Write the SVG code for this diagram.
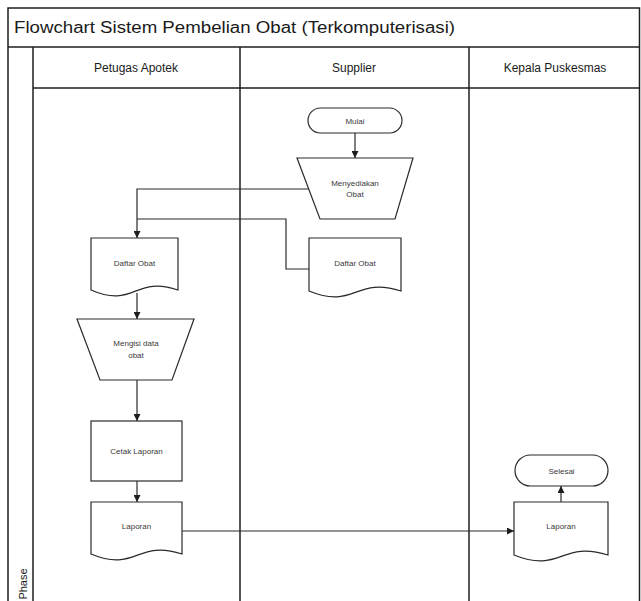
<svg xmlns="http://www.w3.org/2000/svg" width="641" height="601" viewBox="0 0 641 601">
  <style>
    .frame { fill: none; stroke: #1e1e1e; stroke-width: 1.5; }
    .shape { fill: #ffffff; stroke: #2a2a2a; stroke-width: 1.2; }
    .conn { fill: none; stroke: #2a2a2a; stroke-width: 1.2; }
    .title { font-family: "Liberation Sans", Arial, sans-serif; font-size: 16px; fill: #1a1a1a; }
    .lane { font-family: "Liberation Sans", Arial, sans-serif; font-size: 12px; fill: #1a1a1a; text-anchor: middle; }
    .lbl { font-family: "Liberation Sans", Arial, sans-serif; font-size: 8px; fill: #3a3a3a; text-anchor: middle; }
  </style>
  <defs>
    <marker id="arrow" viewBox="0 0 10 10" refX="10" refY="5" markerWidth="7" markerHeight="7" markerUnits="userSpaceOnUse" orient="auto">
      <path d="M0,0 L10,5 L0,10 Z" fill="#1e1e1e"/>
    </marker>
  </defs>

  <rect width="641" height="601" fill="#ffffff"/>

  <!-- pool frame, title band, lane headers and lane dividers -->
  <g id="pool">
    <path class="frame" d="M8,601 V8 H639.5 V601"/>
    <line class="frame" x1="8" y1="47" x2="639.5" y2="47"/>
    <line class="frame" x1="33" y1="47" x2="33" y2="601"/>
    <line class="frame" x1="33" y1="88" x2="639.5" y2="88"/>
    <line class="frame" x1="240" y1="47" x2="240" y2="601"/>
    <line class="frame" x1="469" y1="47" x2="469" y2="601"/>
    <text class="title" x="14" y="33" textLength="441" lengthAdjust="spacingAndGlyphs">Flowchart Sistem Pembelian Obat (Terkomputerisasi)</text>
    <text class="lane" x="136" y="72">Petugas Apotek</text>
    <text class="lane" x="354" y="72">Supplier</text>
    <text class="lane" x="555" y="72">Kepala Puskesmas</text>
    <text class="lane" transform="translate(27,584) rotate(-90)" style="font-size:11px">Phase</text>
  </g>

  <!-- connectors -->
  <g id="connectors">
    <path class="conn" d="M355,133 V158" marker-end="url(#arrow)"/>
    <path class="conn" d="M308.7,189 H137 V238" marker-end="url(#arrow)"/>
    <path class="conn" d="M309,269 H286 V219 H137"/>
    <path class="conn" d="M137,293 V319" marker-end="url(#arrow)"/>
    <path class="conn" d="M137,380 V421" marker-end="url(#arrow)"/>
    <path class="conn" d="M137,481 V502" marker-end="url(#arrow)"/>
    <path class="conn" d="M182,531 H514" marker-end="url(#arrow)"/>
    <path class="conn" d="M561,502 V486" marker-end="url(#arrow)"/>
  </g>

  <g id="mulai">
    <rect class="shape" x="308" y="108" width="94" height="25" rx="12.5"/>
    <text class="lbl" x="355" y="123.5">Mulai</text>
  </g>

  <g id="menyediakan-obat">
    <path class="shape" d="M297,158 H413 L395,219 H320 Z"/>
    <text class="lbl" x="355" y="186">Menyediakan</text>
    <text class="lbl" x="355" y="197">Obat</text>
  </g>

  <g id="daftar-obat-supplier">
    <path class="shape" d="M309,238 H401 V291 C355,276 355,310 309,291 Z"/>
    <text class="lbl" x="355" y="266">Daftar Obat</text>
  </g>

  <g id="daftar-obat-petugas">
    <path class="shape" d="M91,238 H178 V290 C134.5,275 134.5,309 91,290 Z"/>
    <text class="lbl" x="134.5" y="266">Daftar Obat</text>
  </g>

  <g id="mengisi-data-obat">
    <path class="shape" d="M77,319 H194 L172,380 H100 Z"/>
    <text class="lbl" x="136" y="346">Mengisi data</text>
    <text class="lbl" x="136" y="358">obat</text>
  </g>

  <g id="cetak-laporan">
    <rect class="shape" x="91" y="421" width="91" height="60"/>
    <text class="lbl" x="136.5" y="454">Cetak Laporan</text>
  </g>

  <g id="laporan-petugas">
    <path class="shape" d="M91,502 H182 V554 C136.5,539 136.5,573 91,554 Z"/>
    <text class="lbl" x="136.5" y="529">Laporan</text>
  </g>

  <g id="laporan-kepala">
    <path class="shape" d="M514,502 H608 V555 C561,540 561,574 514,555 Z"/>
    <text class="lbl" x="561" y="529">Laporan</text>
  </g>

  <g id="selesai">
    <rect class="shape" x="515" y="455" width="93" height="31" rx="15.5"/>
    <text class="lbl" x="561.5" y="473.5">Selesai</text>
  </g>
</svg>
